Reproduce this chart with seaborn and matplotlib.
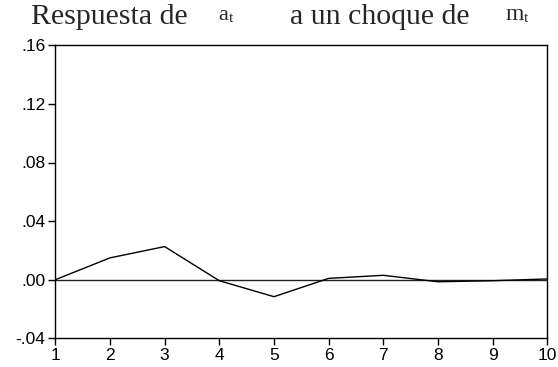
import matplotlib
matplotlib.use("Agg")
import matplotlib.pyplot as plt
import seaborn as sns
import pandas as pd

periods = [1, 2, 3, 4, 5, 6, 7, 8, 9, 10]
response = [0.0, 0.0149, 0.0226, -0.0007, -0.0116, 0.0009, 0.0030, -0.0014, -0.0007, 0.0005]
y_ticks = [-0.04, 0.00, 0.04, 0.08, 0.12, 0.16]
y_tick_labels = ["-.04", ".00", ".04", ".08", ".12", ".16"]
title_main_1 = "Respuesta de"
title_var_1 = ("a", "t")
title_main_2 = "a un choque de"
title_var_2 = ("m", "t")

sns.set_style("white")
plt.rcParams["font.family"] = ["Liberation Sans", "DejaVu Sans"]

W, H = 558, 367
fig = plt.figure(figsize=(W / 100, H / 100), dpi=100)
ax = fig.add_axes([55.3 / W, 1 - 338.3 / H, (547.3 - 55.3) / W, (338.3 - 45.3) / H])

df = pd.DataFrame({"period": periods, "response": response})
ax.axhline(0, color="#222222", lw=1.0, zorder=1)
sns.lineplot(data=df, x="period", y="response", ax=ax, color="black", lw=1.0, zorder=2)

ax.set_xlim(1, 10)
ax.set_ylim(-0.04, 0.16)
ax.set_xticks(periods)
ax.set_xticklabels([str(p) for p in periods])
ax.set_yticks(y_ticks)
ax.set_yticklabels(y_tick_labels)
ax.set_xlabel("")
ax.set_ylabel("")
for s in ax.spines.values():
    s.set_color("black")
    s.set_linewidth(1.0)
    s.set_visible(True)
ax.tick_params(axis="both", which="major", direction="out", length=5, width=1,
               color="black", labelsize=12.5, labelcolor="black", pad=2,
               bottom=True, left=True, top=False, right=False)

serif = ["Liberation Serif", "DejaVu Serif"]

def ftxt(x, y, s, size):
    fig.text(x / W, 1 - y / H, s, fontsize=size, family=serif, va="baseline", ha="left")

ftxt(31, 24.5, title_main_1, 21.5)
ftxt(218, 20.5, title_var_1[0], 16)
ftxt(228.5, 22.5, title_var_1[1], 11)
ftxt(290, 24.5, title_main_2, 21.5)
ftxt(505, 20.5, title_var_2[0], 17)
ftxt(523.5, 22.5, title_var_2[1], 11)

fig.savefig("out.png", dpi=100)
